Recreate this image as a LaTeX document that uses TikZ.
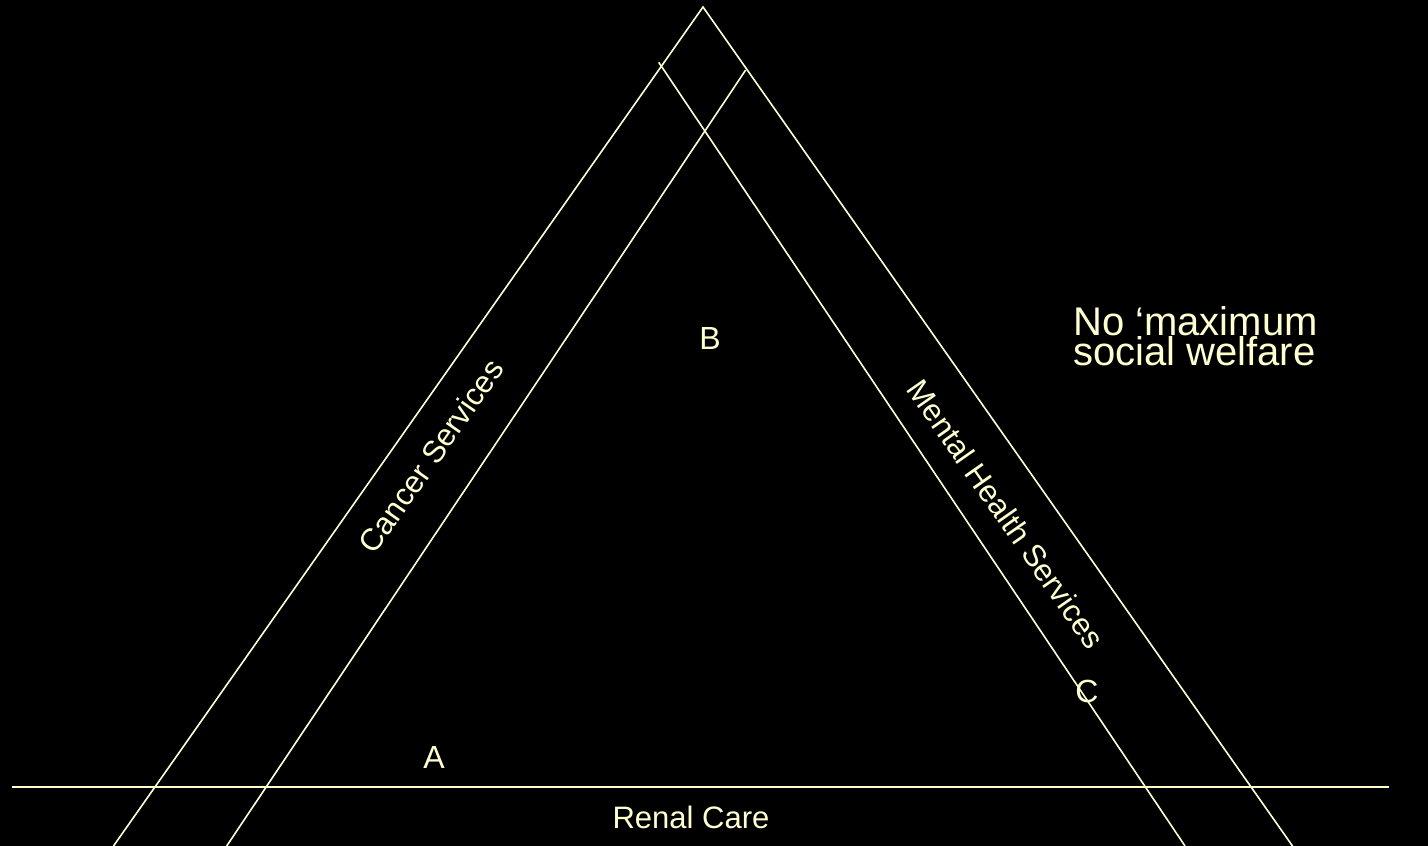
\documentclass[tikz,border=0pt]{standalone}
\usepackage{fontspec}
\setmainfont{Liberation Sans}
\definecolor{ink}{HTML}{FFFFCC}
\begin{document}
\begin{tikzpicture}[x=1pt,y=1pt,
  band/.style={draw=ink,line width=1.6pt},
  lbl/.style={text=ink,font=\fontsize{32}{34}\selectfont,inner sep=0pt},
  side/.style={text=ink,font=\fontsize{31}{34}\selectfont,inner sep=0pt},
  big/.style={text=ink,font=\fontsize{40}{30}\selectfont,inner sep=0pt,align=left,anchor=west}]
\fill[black] (0,0) rectangle (1428,846);
\useasboundingbox (0,0) rectangle (1428,846);
\clip (0,0) rectangle (1428,846);
% named points
\coordinate (apex) at (703,839);
\coordinate (olb) at (113.5,0);
\coordinate (orb) at (1292.5,0);
\coordinate (ilt) at (745.7,776);
\coordinate (ilb) at (226.7,0);
\coordinate (irt) at (658.7,783.7);
\coordinate (irb) at (1185,0);
\coordinate (hl) at (12,59);
\coordinate (hr) at (1389,59);
% lines
\draw[band] (olb) -- (apex) -- (orb);
\draw[band] (ilt) -- (ilb);
\draw[band] (irt) -- (irb);
\draw[band] (hl) -- (hr);
% labels
\node[side,rotate=55] (cancer) at (431,390) {Cancer Services};
\node[side,rotate=-55] (mental) at (1006,332) {Mental Health Services};
\node[side] (renal) at (691,29) {Renal Care};
\node[lbl] (A) at (434,89) {A};
\node[lbl] (B) at (710,508) {B};
\node[lbl] (C) at (1087,155) {C};
\node[big] (note) at (1073,510) {No ‘maximum\\social welfare};
\end{tikzpicture}
\end{document}
